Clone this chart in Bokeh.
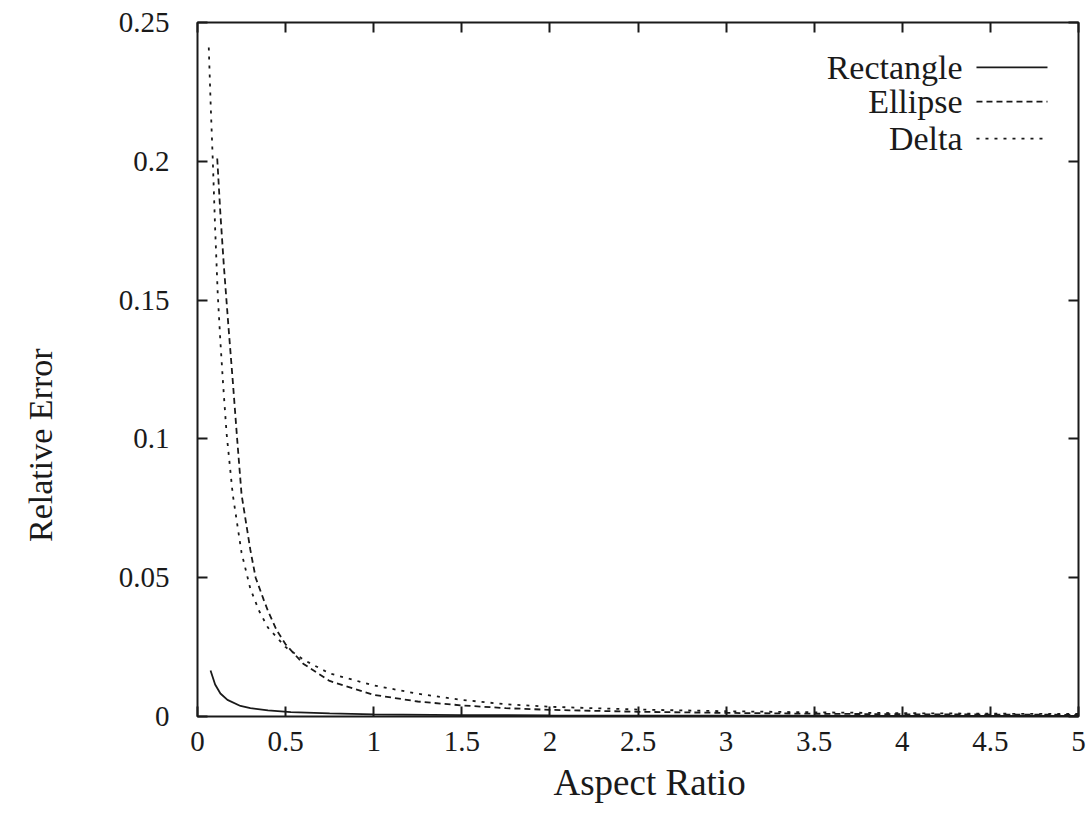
import math
from bokeh.plotting import figure
from bokeh.layouts import row
from bokeh.core.properties import value
from bokeh.models import (Range1d, FixedTicker, LinearAxis, Label, Arrow, Title,
                          CustomLabelingPolicy)
from bokeh.embed import file_html
from bokeh.resources import INLINE

# ---- data ----
rect_x = [0.074, 0.1, 0.13, 0.17, 0.244, 0.3, 0.4, 0.53, 0.75, 1.0, 1.5, 2.0, 3.0, 4.0, 5.0]
rect_y = [0.0166, 0.0115, 0.0083, 0.0060, 0.0038, 0.0030, 0.0022, 0.0016, 0.0011, 0.0008,
          0.0005, 0.0004, 0.0003, 0.0002, 0.0002]

ellipse_x = [0.112, 0.13, 0.15, 0.175, 0.2, 0.225, 0.25, 0.3, 0.33, 0.376, 0.4, 0.45, 0.5,
             0.55, 0.6, 0.75, 1.0, 1.25, 1.5, 1.75, 2.0, 2.5, 3.0, 3.5, 4.0, 4.5, 5.0]
ellipse_y = [0.201, 0.181, 0.162, 0.141, 0.121, 0.100, 0.080, 0.060, 0.050, 0.042, 0.038,
             0.031, 0.026, 0.0225, 0.019, 0.0128, 0.0078, 0.0054, 0.0040, 0.0030, 0.0024,
             0.0017, 0.0013, 0.0010, 0.0008, 0.0007, 0.0006]

delta_x = [0.064, 0.075, 0.087, 0.1, 0.115, 0.13, 0.145, 0.165, 0.2, 0.25, 0.3, 0.35, 0.4,
           0.5, 0.6, 0.75, 1.0, 1.25, 1.5, 1.75, 2.0, 2.5, 3.0, 3.5, 4.0, 4.5, 5.0]
delta_y = [0.241, 0.220, 0.200, 0.176, 0.152, 0.135, 0.120, 0.102, 0.080, 0.059, 0.046,
           0.038, 0.032, 0.025, 0.0205, 0.0155, 0.0112, 0.0082, 0.0060, 0.0044, 0.0035,
           0.0025, 0.0019, 0.0015, 0.0012, 0.0010, 0.0009]

x_ticks = [0, 0.5, 1, 1.5, 2, 2.5, 3, 3.5, 4, 4.5, 5]
x_tick_labels = ["0", "0.5", "1", "1.5", "2", "2.5", "3", "3.5", "4", "4.5", "5"]
y_ticks = [0, 0.05, 0.1, 0.15, 0.2, 0.25]
y_tick_labels = ["0", "0.05", "0.1", "0.15", "0.2", "0.25"]

series_names = ["Rectangle", "Ellipse", "Delta"]
x_title = "Aspect Ratio"
y_title = "Relative Error"

FONT = "Liberation Serif"
INK = "#1a1a1a"
TITLE_W = 70  # narrow strip on the left that carries the y-axis title

p = figure(width=1090 - TITLE_W, height=816, output_backend="svg", toolbar_location=None,
           x_range=Range1d(0, 5), y_range=Range1d(0, 0.25),
           min_border_left=197 - TITLE_W, min_border_right=12, min_border_top=22,
           min_border_bottom=100)
p.grid.visible = False
p.background_fill_color = "white"
p.border_fill_color = "white"
p.outline_line_color = INK
p.outline_line_width = 2

hide_all = CustomLabelingPolicy(code="""
const all = [...indices]
for (const i of all) indices.unset(i)
return indices
""")


def style_axis(ax, ticks, labels, show_labels, standoff):
    ax.ticker = FixedTicker(ticks=ticks)
    ax.major_label_overrides = {t: l for t, l in zip(ticks, labels)}
    ax.major_tick_in = 10
    ax.major_tick_out = 0
    ax.minor_tick_line_color = None
    ax.axis_line_color = None
    ax.major_tick_line_color = INK
    ax.major_tick_line_width = 2
    ax.major_label_text_font = FONT
    ax.major_label_text_color = INK
    ax.major_label_standoff = standoff
    if show_labels:
        ax.major_label_text_font_size = "29px"
    else:
        ax.major_label_text_font_size = "1px"
        ax.major_label_policy = hide_all


style_axis(p.xaxis[0], x_ticks, x_tick_labels, True, 15)
style_axis(p.yaxis[0], y_ticks, y_tick_labels, True, 28)
top = LinearAxis()
style_axis(top, x_ticks, x_tick_labels, False, 0)
p.add_layout(top, "above")
right = LinearAxis()
style_axis(right, y_ticks, y_tick_labels, False, 0)
p.add_layout(right, "right")

p.line(rect_x, rect_y, line_color=INK, line_width=1.8)
p.line(ellipse_x, ellipse_y, line_color=INK, line_width=1.8, line_dash="6 4")
p.line(delta_x, delta_y, line_color=INK, line_width=1.8, line_dash="3 6")

# x-axis title (side-panel title, placed slightly right of centre like the reference)
p.add_layout(Title(text=x_title, align="left", offset=356, standoff=12, text_font=FONT,
                   text_font_size="37px", text_font_style="normal", text_color=INK), "below")

# legend (label on the left, line sample on the right)
leg_y = [0.2338, 0.2215, 0.2082]
dashes = ["solid", "6 4", "3 6"]
for name, yy, d in zip(series_names, leg_y, dashes):
    p.add_layout(Label(x=4.342, y=yy, text=name, text_font=FONT, text_font_size="34px",
                       text_align="right", text_baseline="middle", text_color=INK))
    p.add_layout(Arrow(end=None, x_start=4.421, y_start=yy, x_end=4.824, y_end=yy,
                       line_color=INK, line_width=1.8, line_dash=d))

# y-axis title strip (pixel-sized ranges so the title sits where the reference has it)
t = figure(width=TITLE_W, height=816, output_backend="svg", toolbar_location=None,
           x_range=Range1d(0, TITLE_W), y_range=Range1d(0, 816),
           x_axis_location=None, y_axis_location=None, min_border=0)
t.grid.visible = False
t.outline_line_color = None
t.background_fill_color = "white"
t.border_fill_color = "white"
t.text(x=[40], y=[816 - 451 - 46], text=[y_title], angle=math.pi / 2, text_font=value(FONT),
       text_font_size="34px", text_align="center", text_baseline="middle", text_color=INK)

layout = row(t, p, spacing=0)
open("out.html", "w").write(file_html(layout, INLINE))
